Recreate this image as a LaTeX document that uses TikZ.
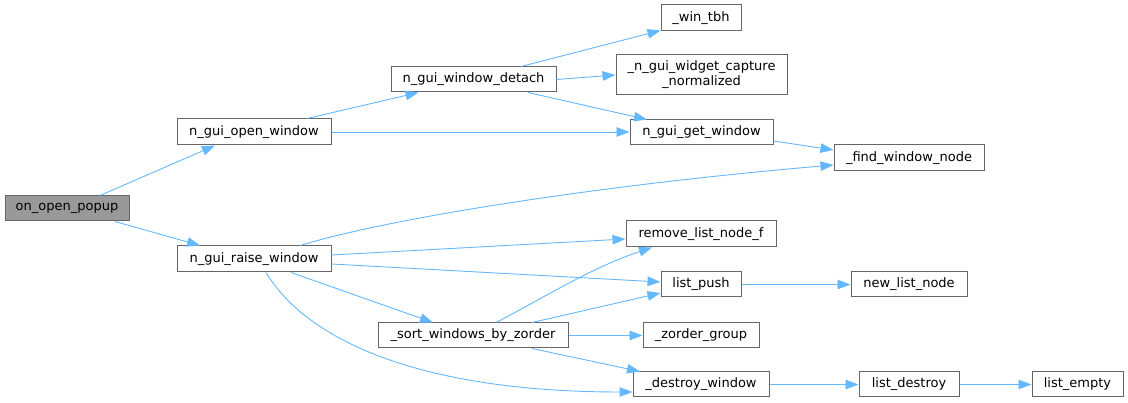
\documentclass[tikz,border=0pt]{standalone}
\usepackage{fontspec}
\setmainfont{DejaVu Sans}
\usetikzlibrary{arrows.meta,calc}
\definecolor{edgec}{HTML}{63B8FF}
\definecolor{borderc}{HTML}{666666}
\definecolor{rootc}{HTML}{999999}
\begin{document}
\begin{tikzpicture}[x=1pt,y=-1pt,
  fn/.style={draw=borderc,line width=1pt,fill=white,inner sep=0pt,minimum height=25pt,align=center,font=\fontsize{13pt}{15pt}\selectfont},
  call/.style={draw=edgec,line width=0.9pt,-{Triangle[length=13pt,width=9.5pt]}}]
\useasboundingbox (0,0) rectangle (1128,403);
\node[fn,fill=rootc,minimum width=124pt] (pop) at (67,208.5) {on\_open\_popup};
\node[fn,minimum width=154pt,minimum height=26pt] (open) at (254,132) {n\_gui\_open\_window};
\node[fn,minimum width=154pt,minimum height=26pt] (raise) at (254,259) {n\_gui\_raise\_window};
\node[fn,minimum width=165pt] (detach) at (473.5,79.5) {n\_gui\_window\_detach};
\node[fn,minimum width=80pt,minimum height=26pt] (tbh) at (701,18) {\_win\_tbh};
\node[fn,minimum width=171pt,minimum height=40pt] (cap) at (701.5,75) {\_n\_gui\_widget\_capture\\\_normalized};
\node[fn,minimum width=143pt] (get) at (701.5,132.5) {n\_gui\_get\_window};
\node[fn,minimum width=150pt,minimum height=26pt] (find) at (909,158) {\_find\_window\_node};
\node[fn,minimum width=150pt,minimum height=26pt] (rem) at (701,234) {remove\_list\_node\_f};
\node[fn,minimum width=80pt] (push) at (701,284.5) {list\_push};
\node[fn,minimum width=116pt] (newl) at (909,284.5) {new\_list\_node};
\node[fn,minimum width=190pt] (sort) at (473,335.5) {\_sort\_windows\_by\_zorder};
\node[fn,minimum width=116pt] (zord) at (701,335.5) {\_zorder\_group};
\node[fn,minimum width=136pt] (destroy) at (701,384.5) {\_destroy\_window};
\node[fn,minimum width=100pt] (ldestroy) at (909,384.5) {list\_destroy};
\node[fn,minimum width=91pt] (lempty) at (1077.5,384.5) {list\_empty};

\draw[call] ([xshift=33pt]pop.north) -- ([xshift=-39pt]open.south);
\draw[call] ([xshift=48pt]pop.south) -- ([xshift=-54pt]raise.north);
\draw[call] ([xshift=53pt]open.north) -- ([xshift=-55pt]detach.south);
\draw[call] (open.east) -- (open.east -| get.west);
\draw[call] ([xshift=47.5pt]detach.north) -- ([yshift=1pt]tbh.south west);
\draw[call] (detach.east) -- (cap.west);
\draw[call] ([xshift=54.5pt]detach.south) -- ([xshift=-54.5pt]get.north);
\draw[call] ([yshift=-8.5pt]get.east) -- ([yshift=8pt]find.west);
\draw[call] ([xshift=46pt]raise.north) .. controls (390,218) and (600,185) .. ([yshift=-7pt]find.west);
\draw[call] ([yshift=4pt]raise.east) -- ([yshift=-5pt]rem.west);
\draw[call] ([yshift=-5pt]raise.east) -- ([yshift=2.5pt]push.west);
\draw[call] ([xshift=37pt]raise.south) -- ([xshift=-40pt]sort.north);
\draw[call] ([xshift=12pt]raise.south) .. controls (310,345) and (430,392) .. ([yshift=-7.5pt]destroy.west);
\draw[call] ([xshift=23pt]sort.north) .. controls (540,300) and (590,268) .. ([xshift=-49pt]rem.south);
\draw[call] ([xshift=59pt]sort.north) -- ([yshift=-8.5pt]push.west);
\draw[call] (sort.east) -- (zord.west);
\draw[call] ([xshift=59pt]sort.south) -- ([xshift=-61pt]destroy.north);
\draw[call] (push.east) -- (newl.west);
\draw[call] (destroy.east) -- (ldestroy.west);
\draw[call] (ldestroy.east) -- (lempty.west);
\end{tikzpicture}
\end{document}
